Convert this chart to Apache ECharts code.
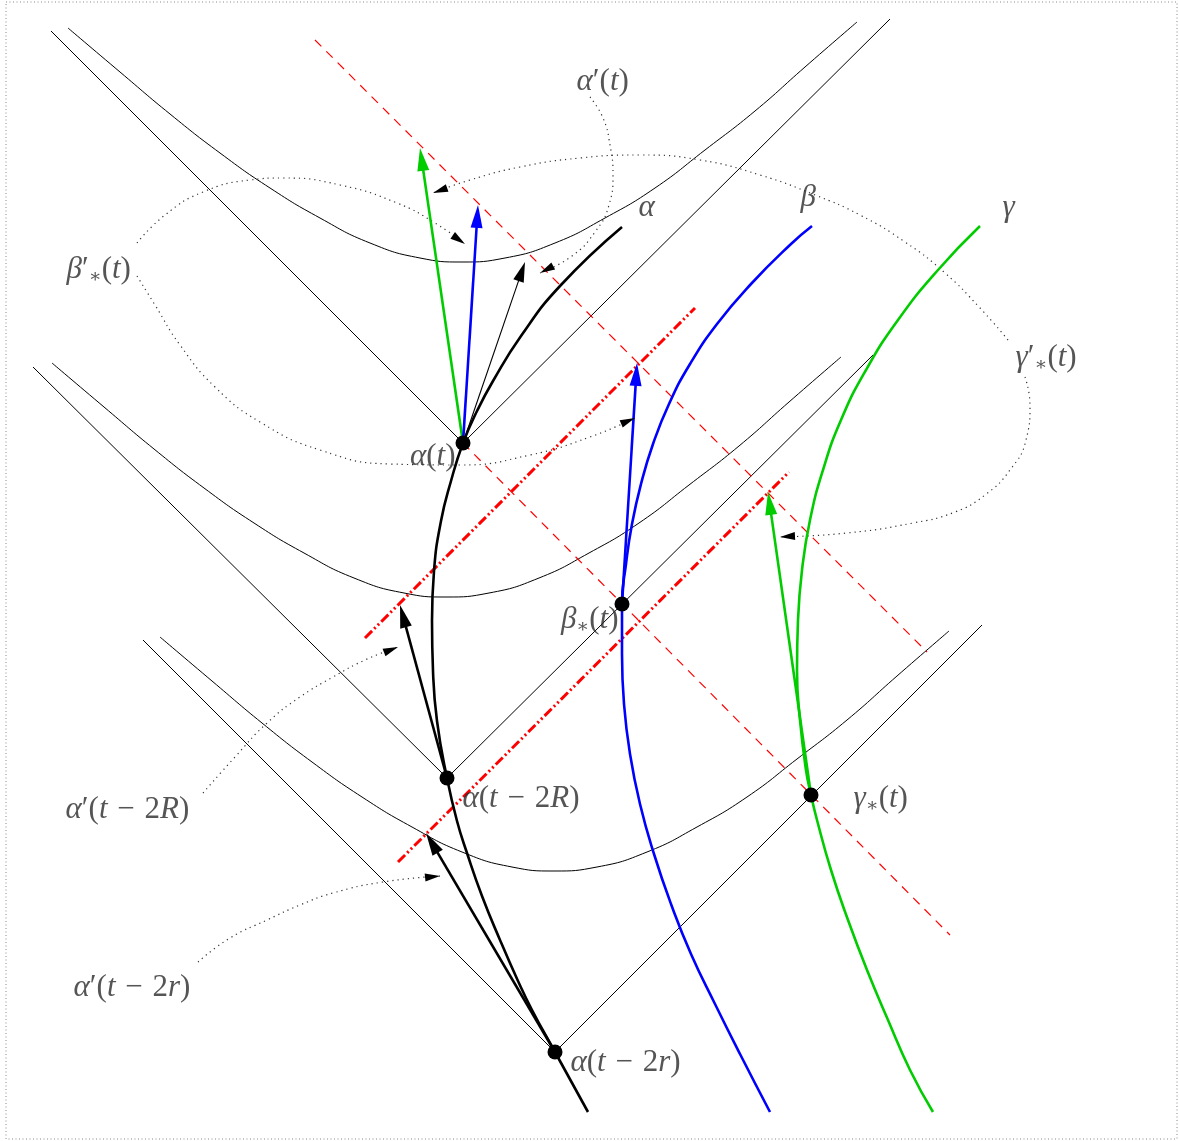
<!DOCTYPE html>
<html><head><meta charset="utf-8">
<script src="https://cdn.jsdelivr.net/npm/echarts@6/dist/echarts.min.js"></script>
<style>html,body{margin:0;padding:0;background:#fff}#c{width:1179px;height:1141px}</style>
</head><body><div id="c"></div>
<script>
// ---------- data (picture coordinates, y downward) ----------
const frameBox = [[6,2],[1177,2],[1177,1139],[6,1139],[6,2]];

const coneTop = [[51,31],[463,443],[890,19]];
const coneMid = [[33,367],[447,778],[873,355]];
const coneLow = [[143,640],[555,1052],[982,625]];

const hypTop = [[68,28],[120,72],[170,114],[220,153],[270,188],[320,218],[370,243],[420,258],[462,262],[505,258],[555,243],[605,218],[655,188],[705,150],[755,111],[805,67],[857,22]];
const hypMid = [[52,363],[104,407],[154,449],[204,488],[254,523],[304,553],[354,578],[404,593],[446,597],[489,593],[539,578],[589,553],[639,523],[689,485],[739,446],[789,402],[841,357]];
const hypLow = [[160,637],[212,681],[262,723],[312,762],[362,797],[412,827],[462,852],[512,867],[554,871],[597,867],[647,852],[697,827],[747,797],[797,759],[847,720],[897,676],[949,631]];

const redDashA = [[315,40],[927,652]];
const redDashB = [[463,443],[950,935]];
const redDotA = [[365,638],[695,308]];
const redDotB = [[398,862],[789,472]];

const alphaPath = [[588,1112],[555,1052],[532,1010],[518,981],[500,940],[482,896],[467,853],[457,821],[447,778],[437,721],[433,671],[432,621],[434,571],[441,521],[451,481],[463,443],[477,411],[493,381],[521,336],[560,286],[622,227]];
const betaPath = [[770,1112],[740,1054],[715,1004],[691,954],[671,904],[654,854],[640,804],[630,754],[624,704],[622,654],[622,604],[626,564],[632,524],[641,484],[653,444],[669,404],[690,364],[717,324],[751,284],[791,244],[812,226]];
const gammaPath = [[933,1112],[910,1070],[888,1020],[867,970],[848,920],[831,870],[817,820],[811,795],[806,770],[800,720],[797,670],[798,620],[802,570],[810,520],[823,470],[841,420],[866,370],[898,320],[938,270],[980,226]];

const greenArrows = [[[463,443],[420,148]], [[811,795],[768,492]]];
const blueArrows = [[[463,443],[478,205]], [[622,604],[637,363]]];
const blackArrows = [[[447,778],[400,605]], [[555,1052],[426,833]]];
const thinArrows = [[[463,443],[525,262]]];

const noteAlpha = [[590,97],[603,118],[610,145],[613,175],[609,205],[595,232],[572,256],[540,273]];
const noteBetaUp = [[137,243],[165,215],[203,192],[250,180],[283,178],[340,185],[397,203],[435,223],[465,244]];
const noteBetaLow = [[137,276],[155,305],[180,345],[215,387],[260,422],[320,450],[390,464],[460,465],[530,455],[590,437],[635,418]];
const noteGammaUp = [[1008,340],[980,308],[945,273],[905,242],[860,215],[815,195],[760,175],[700,160],[640,155],[580,158],[520,167],[470,180],[433,193]];
const noteGammaLow = [[1025,377],[1030,405],[1026,440],[1010,470],[985,495],[955,512],[913,523],[847,533],[780,537]];
const noteA2R = [[203,793],[235,757],[267,723],[300,697],[333,677],[365,660],[398,647]];
const noteA2r = [[198,962],[230,938],[267,920],[300,905],[333,893],[383,882],[440,876]];

const nodes = [[463,443],[447,778],[555,1052],[622,604],[811,795]];

const labelTexts = ["α(t)","β∗(t)","α(t − 2R)","γ∗(t)","α(t − 2r)","α","β","γ","α′(t)","β′∗(t)","γ′∗(t)","α′(t − 2R)","α′(t − 2r)"];
const labelAnchors = [[456,457],[619,620],[462,799],[853,799],[570,1063],[638,208],[800,198],[1002,208],[576,82],[66,270],[1015,358],[65,810],[73,988]];
const labelSides = ["left","left","right","right","right","right","right","right","right","right","right","right","right"];

// ---------- helpers ----------
const FONT = "'Liberation Serif','DejaVu Serif',serif";
const GREEN = '#00cc00', BLUE = '#0000ff', RED = '#ff0000', DOT = '#333';

function line(data, color, width, type, smooth, z) {
  return {type:'line', data:data, symbol:'none', showSymbol:false, smooth:smooth||false,
    silent:true, z:z||2, animation:false,
    lineStyle:{color:color, width:width, type:type||'solid', cap:'butt', join:'round'}};
}
function head(from, to, w, h) {
  const dx = to[0]-from[0], dy = to[1]-from[1], L = Math.hypot(dx,dy);
  const ux = dx/L, uy = dy/L;
  return {value:[to[0]-ux*h/2, to[1]-uy*h/2], symbolSize:[w,h],
          symbolRotate: Math.atan2(-dx,-dy)*180/Math.PI};
}
function shaft(from, to, h) {
  const dx = to[0]-from[0], dy = to[1]-from[1], L = Math.hypot(dx,dy);
  return [from, [to[0]-dx/L*h*0.6, to[1]-dy/L*h*0.6]];
}
function heads(items, color, z) {
  return {type:'scatter', symbol:'triangle', data:items, silent:true, z:z||5, animation:false,
    itemStyle:{color:color, opacity:1}};
}
function toRich(s) {
  let out = '', cur = null, buf = '';
  const style = c => c === '∗' ? 's' : (c === '−' ? 'm' : (/[αβγtRr]/.test(c) ? 'i' : 'n'));
  for (const c of s) {
    const st = style(c);
    if (st !== cur) { if (cur) out += '{'+cur+'|'+buf+'}'; cur = st; buf = ''; }
    buf += c;
  }
  if (cur) out += '{'+cur+'|'+buf+'}';
  return out;
}

const series = [];
series.push(line(frameBox, '#888', 1, [1,2.5], false, 1));
[coneTop, coneMid, coneLow].forEach(d => series.push(line(d, '#000', 1, 'solid', false)));
[hypTop, hypMid, hypLow].forEach(d => series.push(line(d, '#000', 1, 'solid', true)));
[redDashA, redDashB].forEach(d => series.push(line(d, RED, 1.2, [9,7], false, 3)));
[redDotA, redDotB].forEach(d => series.push(line(d, RED, 3, [10,3,2,3,2,3], false, 3)));
series.push(line(alphaPath, '#000', 2.6, 'solid', true, 4));
series.push(line(betaPath, BLUE, 2.6, 'solid', true, 4));
series.push(line(gammaPath, GREEN, 2.6, 'solid', true, 4));

const notes = [noteAlpha, noteBetaUp, noteBetaLow, noteGammaUp, noteGammaLow, noteA2R, noteA2r];
notes.forEach(d => series.push(line(d, DOT, 1.2, [1.2,4], true, 3)));
series.push(heads(notes.map(d => head(d[d.length-2], d[d.length-1], 8, 15)), '#000', 6));

const HW = 12, HH = 23;
greenArrows.forEach(a => series.push(line(shaft(a[0],a[1],HH), GREEN, 2.6, 'solid', false, 5)));
blueArrows.forEach(a => series.push(line(shaft(a[0],a[1],HH), BLUE, 2.6, 'solid', false, 5)));
blackArrows.forEach(a => series.push(line(shaft(a[0],a[1],HH), '#000', 2.6, 'solid', false, 5)));
thinArrows.forEach(a => series.push(line(shaft(a[0],a[1],20), '#000', 1.1, 'solid', false, 5)));
series.push(heads(greenArrows.map(a => head(a[0],a[1],HW,HH)), GREEN, 6));
series.push(heads(blueArrows.map(a => head(a[0],a[1],HW,HH)), BLUE, 6));
series.push(heads(blackArrows.map(a => head(a[0],a[1],HW,HH)), '#000', 6));
series.push(heads(thinArrows.map(a => head(a[0],a[1],11,20)), '#000', 6));

series.push({type:'scatter', data:nodes, symbol:'circle', symbolSize:15, silent:true, z:8,
  animation:false, itemStyle:{color:'#000', opacity:1}});

const FS = 31;
series.push({type:'scatter', symbol:'circle', symbolSize:1, silent:true, z:9, animation:false,
  itemStyle:{color:'rgba(0,0,0,0)'},
  data: labelTexts.map((t,i) => ({value:labelAnchors[i], label:{position:labelSides[i]}, name:t})),
  label:{show:true, distance:0, formatter: p => toRich(p.name),
    rich:{
      i:{fontFamily:FONT, fontStyle:'italic', fontSize:FS, color:'#2a2a2a', lineHeight:34},
      n:{fontFamily:FONT, fontSize:FS, color:'#2a2a2a', lineHeight:34},
      m:{fontFamily:FONT, fontSize:FS, color:'#2a2a2a', lineHeight:34, padding:[0,2,0,2]},
      s:{fontFamily:FONT, fontSize:19, color:'#2a2a2a', lineHeight:14, verticalAlign:'bottom'}
    }}});

const chart = echarts.init(document.getElementById('c'));
chart.setOption({
  animation:false,
  grid:{left:0, right:0, top:0, bottom:0},
  xAxis:{type:'value', min:0, max:1179, show:false},
  yAxis:{type:'value', min:0, max:1141, inverse:true, show:false},
  series: series
});
</script></body></html>
